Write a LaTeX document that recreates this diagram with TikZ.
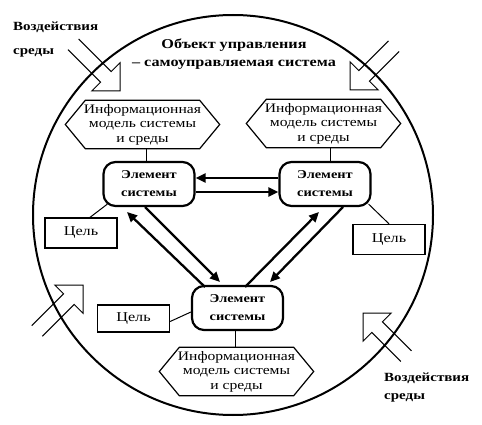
\documentclass[tikz,border=0pt]{standalone}
\usepackage{fontspec}
\setmainfont[FakeStretch=1.2]{Liberation Serif}
\usetikzlibrary{arrows.meta,calc}
\begin{document}
\begin{tikzpicture}[x=1pt,y=-1pt,
  hexbox/.style={minimum width=154pt,minimum height=48pt,inner sep=0pt,align=center,
    font=\fontsize{13}{14.5}\selectfont},
  hexline/.style={line width=1.2pt,line join=miter},
  elem/.style={draw,line width=2.2pt,rounded corners=12pt,minimum width=91pt,minimum height=44pt,
    inner sep=0pt,align=center,font=\fontsize{12}{18}\selectfont\bfseries},
  goal/.style={draw,line width=1.3pt,minimum width=72pt,minimum height=30pt,inner sep=0pt,
    font=\fontsize{13.5}{14}\selectfont},
  thin/.style={line width=1pt},
  thick arrow/.style={line width=2.3pt,-{Triangle[length=10pt,width=9pt]}},
  hollow/.style={line width=1pt,line join=miter},
  envlabel/.style={inner sep=0pt,align=left,font=\fontsize{12.5}{14}\selectfont\bfseries},
]
\useasboundingbox (0,0) rectangle (482,425);

% big circle
\node[draw,circle,line width=2pt,minimum size=400pt,inner sep=0pt] (circ) at (233,215) {};

% title
\node[align=center,inner sep=0pt,font=\fontsize{13.5}{18}\selectfont\bfseries] (title) at (234,54)
  {Объект управления\\– самоуправляемая система};

% environment labels
\node[envlabel,anchor=west] (env1) at (13,39.5) {Воздействия\\[10pt]среды};
\node[envlabel,anchor=west] (env2) at (384,387.5) {Воздействия\\[4pt]среды};

% hollow arrows (environment influences)
\foreach \tx/\ty/\ang/\len [count=\i] in {120/91/-45/66, 350/90/-135/62, 83/285/45/65, 363/313/135/61}{
  \begin{scope}[shift={(\tx,\ty)},rotate=\ang]
    \draw[hollow] (-\len,7.5) -- (-20,7.5) -- (-20,20) -- (0,0) -- (-20,-20) -- (-20,-7.5) -- (-\len,-7.5);
  \end{scope}
}

% hexagons
\node[hexbox] (h1) at (142.5,124.5) {Информационная\\модель системы\\и среды};
\node[hexbox] (h2) at (323.5,123.5) {Информационная\\модель системы\\и среды};
\node[hexbox] (h3) at (236.5,371.5) {Информационная\\модель системы\\и среды};
\foreach \h in {h1,h2,h3}{
  \draw[hexline] ([xshift=20pt]\h.north west) -- ([xshift=-20pt]\h.north east) -- (\h.east)
    -- ([xshift=-20pt]\h.south east) -- ([xshift=20pt]\h.south west) -- (\h.west) -- cycle;
}

% elements
\node[elem] (e1) at (149,184) {Элемент\\системы};
\node[elem] (e2) at (325,184) {Элемент\\системы};
\node[elem] (e3) at (237.5,308) {Элемент\\системы};

% goals
\node[goal] (g1) at (81,233) {Цель};
\node[goal] (g2) at (389,239.5) {Цель};
\node[goal,minimum height=27pt] (g3) at (133.5,318.5) {Цель};

% thin links
\draw[thin] ([xshift=3.5pt]h1.south) -- ([xshift=3.5pt]h1.south |- e1.north);
\draw[thin] ([xshift=6.5pt]h2.south) -- ([xshift=6.5pt]h2.south |- e2.north);
\draw[thin] ([xshift=-2.5pt]e3.south) -- ([xshift=-2.5pt]e3.south |- h3.north);
\draw[thin] ([xshift=9pt]g1.north) -- ([shift={(5pt,3pt)}]e1.south west);
\draw[thin] ([shift={(-3pt,3pt)}]e2.south east) -- (g2.north);
\draw[thin] ([yshift=-3pt]g3.east) -- ([yshift=-4pt]e3.west);

% thick arrows between elements
\draw[thick arrow] ([yshift=6pt]e2.west) -- ([yshift=6pt]e1.east);
\draw[thick arrow] ([yshift=-8pt]e1.east) -- ([yshift=-8pt]e2.west);
\draw[thick arrow] ([shift={(-32.5pt,21pt)}]e3.center) -- ([shift={(-22pt,-28pt)}]e1.center);
\draw[thick arrow] ([shift={(-4pt,-23pt)}]e1.center) -- ([shift={(-17.5pt,26pt)}]e3.center);
\draw[thick arrow] ([shift={(7.5pt,21pt)}]e3.center) -- ([shift={(-6pt,-28pt)}]e2.center);
\draw[thick arrow] ([shift={(18pt,-23pt)}]e2.center) -- ([shift={(32.5pt,26pt)}]e3.center);
\end{tikzpicture}
\end{document}
